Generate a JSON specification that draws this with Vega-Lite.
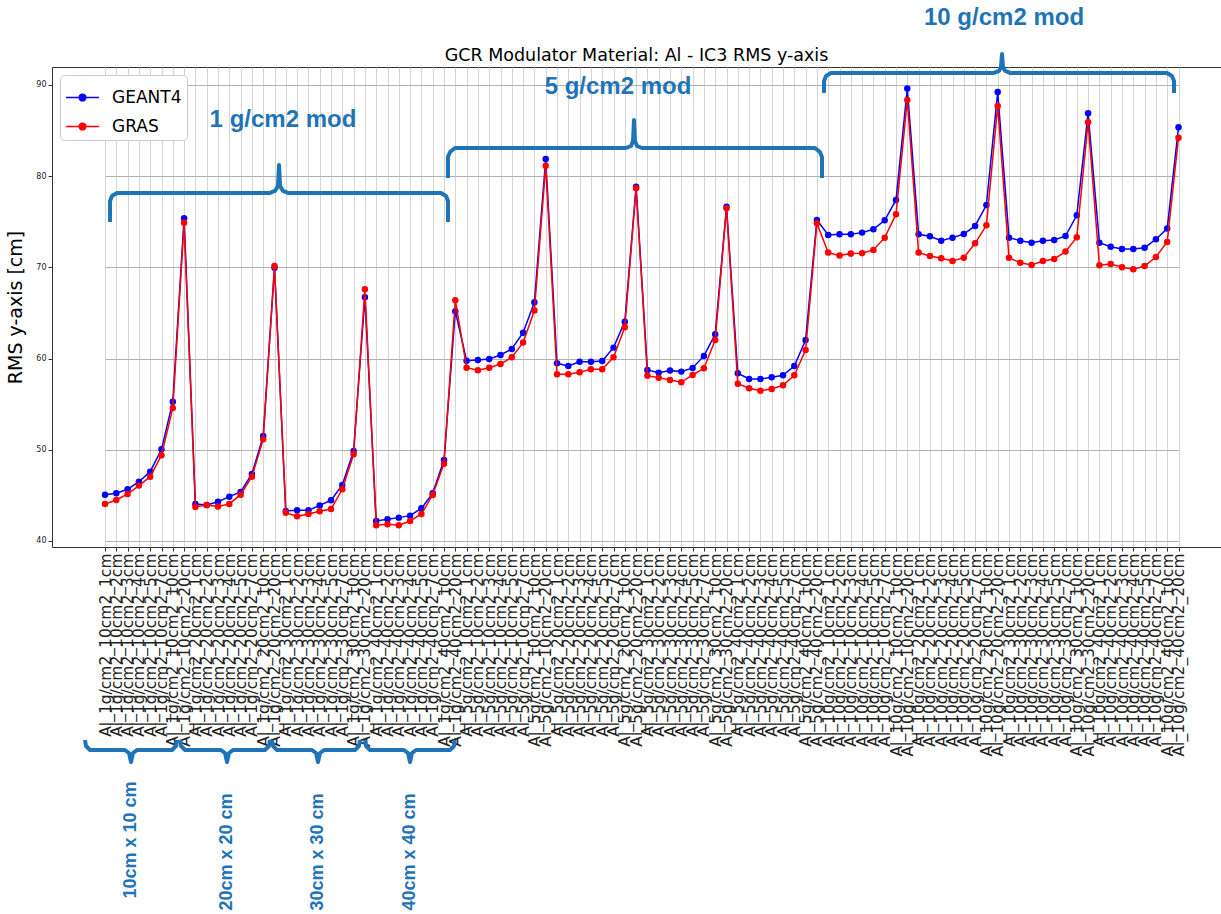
{
  "$schema": "https://vega.github.io/schema/vega-lite/v6.json",
  "autosize": "none",
  "padding": {"left": 52, "top": 67, "right": 0, "bottom": 367},
  "width": 1169,
  "height": 480,
  "background": "white",
  "title": {"text": "GCR Modulator Material: Al - IC3 RMS y-axis", "font": "DejaVu Sans", "fontSize": 17.5, "fontWeight": "normal", "color": "#000000", "offset": 4, "dy": 63, "anchor": "middle"},
  "config": {
    "view": {"stroke": "#333333", "strokeWidth": 1},
    "axis": {"domain": false, "tickColor": "#333333", "tickSize": 4, "labelColor": "#222222", "labelFont": "DejaVu Sans", "titleFont": "DejaVu Sans", "titleFontWeight": "normal", "titleColor": "#000000"}
  },
  "datasets": {
    "rms": [
      {"case": "Al_1g/cm2_10cm2_1cm", "GEANT4": 45.08, "GRAS": 44.06},
      {"case": "Al_1g/cm2_10cm2_2cm", "GEANT4": 45.23, "GRAS": 44.5},
      {"case": "Al_1g/cm2_10cm2_3cm", "GEANT4": 45.67, "GRAS": 45.15},
      {"case": "Al_1g/cm2_10cm2_4cm", "GEANT4": 46.5, "GRAS": 46.07},
      {"case": "Al_1g/cm2_10cm2_5cm", "GEANT4": 47.6, "GRAS": 47.05},
      {"case": "Al_1g/cm2_10cm2_7cm", "GEANT4": 50.05, "GRAS": 49.4},
      {"case": "Al_1g/cm2_10cm2_10cm", "GEANT4": 55.27, "GRAS": 54.58},
      {"case": "Al_1g/cm2_10cm2_20cm", "GEANT4": 75.38, "GRAS": 74.9},
      {"case": "Al_1g/cm2_20cm2_1cm", "GEANT4": 44.06, "GRAS": 43.73},
      {"case": "Al_1g/cm2_20cm2_2cm", "GEANT4": 43.95, "GRAS": 43.95},
      {"case": "Al_1g/cm2_20cm2_3cm", "GEANT4": 44.31, "GRAS": 43.77},
      {"case": "Al_1g/cm2_20cm2_4cm", "GEANT4": 44.86, "GRAS": 44.06},
      {"case": "Al_1g/cm2_20cm2_5cm", "GEANT4": 45.37, "GRAS": 45.08},
      {"case": "Al_1g/cm2_20cm2_7cm", "GEANT4": 47.35, "GRAS": 47.05},
      {"case": "Al_1g/cm2_20cm2_10cm", "GEANT4": 51.5, "GRAS": 51.15},
      {"case": "Al_1g/cm2_20cm2_20cm", "GEANT4": 69.97, "GRAS": 70.15},
      {"case": "Al_1g/cm2_30cm2_1cm", "GEANT4": 43.29, "GRAS": 43.1},
      {"case": "Al_1g/cm2_30cm2_2cm", "GEANT4": 43.36, "GRAS": 42.7},
      {"case": "Al_1g/cm2_30cm2_3cm", "GEANT4": 43.36, "GRAS": 42.96},
      {"case": "Al_1g/cm2_30cm2_4cm", "GEANT4": 43.9, "GRAS": 43.25},
      {"case": "Al_1g/cm2_30cm2_5cm", "GEANT4": 44.46, "GRAS": 43.5},
      {"case": "Al_1g/cm2_30cm2_7cm", "GEANT4": 46.14, "GRAS": 45.67},
      {"case": "Al_1g/cm2_30cm2_10cm", "GEANT4": 49.87, "GRAS": 49.5},
      {"case": "Al_1g/cm2_30cm2_20cm", "GEANT4": 66.72, "GRAS": 67.6},
      {"case": "Al_1g/cm2_40cm2_1cm", "GEANT4": 42.19, "GRAS": 41.72},
      {"case": "Al_1g/cm2_40cm2_2cm", "GEANT4": 42.38, "GRAS": 41.83},
      {"case": "Al_1g/cm2_40cm2_3cm", "GEANT4": 42.56, "GRAS": 41.72},
      {"case": "Al_1g/cm2_40cm2_4cm", "GEANT4": 42.78, "GRAS": 42.19},
      {"case": "Al_1g/cm2_40cm2_5cm", "GEANT4": 43.58, "GRAS": 42.96},
      {"case": "Al_1g/cm2_40cm2_7cm", "GEANT4": 45.23, "GRAS": 45.04},
      {"case": "Al_1g/cm2_40cm2_10cm", "GEANT4": 48.88, "GRAS": 48.48},
      {"case": "Al_1g/cm2_40cm2_20cm", "GEANT4": 65.2, "GRAS": 66.4},
      {"case": "Al_5g/cm2_10cm2_1cm", "GEANT4": 59.77, "GRAS": 59.0},
      {"case": "Al_5g/cm2_10cm2_2cm", "GEANT4": 59.85, "GRAS": 58.71},
      {"case": "Al_5g/cm2_10cm2_3cm", "GEANT4": 59.96, "GRAS": 59.0},
      {"case": "Al_5g/cm2_10cm2_4cm", "GEANT4": 60.39, "GRAS": 59.41},
      {"case": "Al_5g/cm2_10cm2_5cm", "GEANT4": 61.05, "GRAS": 60.14},
      {"case": "Al_5g/cm2_10cm2_7cm", "GEANT4": 62.84, "GRAS": 61.75},
      {"case": "Al_5g/cm2_10cm2_10cm", "GEANT4": 66.17, "GRAS": 65.26},
      {"case": "Al_5g/cm2_10cm2_20cm", "GEANT4": 81.89, "GRAS": 81.15},
      {"case": "Al_5g/cm2_20cm2_1cm", "GEANT4": 59.48, "GRAS": 58.28},
      {"case": "Al_5g/cm2_20cm2_2cm", "GEANT4": 59.19, "GRAS": 58.28},
      {"case": "Al_5g/cm2_20cm2_3cm", "GEANT4": 59.66, "GRAS": 58.5},
      {"case": "Al_5g/cm2_20cm2_4cm", "GEANT4": 59.66, "GRAS": 58.83},
      {"case": "Al_5g/cm2_20cm2_5cm", "GEANT4": 59.74, "GRAS": 58.83},
      {"case": "Al_5g/cm2_20cm2_7cm", "GEANT4": 61.2, "GRAS": 60.14},
      {"case": "Al_5g/cm2_20cm2_10cm", "GEANT4": 64.05, "GRAS": 63.43},
      {"case": "Al_5g/cm2_20cm2_20cm", "GEANT4": 78.85, "GRAS": 78.67},
      {"case": "Al_5g/cm2_30cm2_1cm", "GEANT4": 58.75, "GRAS": 58.13},
      {"case": "Al_5g/cm2_30cm2_2cm", "GEANT4": 58.46, "GRAS": 57.91},
      {"case": "Al_5g/cm2_30cm2_3cm", "GEANT4": 58.68, "GRAS": 57.65},
      {"case": "Al_5g/cm2_30cm2_4cm", "GEANT4": 58.57, "GRAS": 57.4},
      {"case": "Al_5g/cm2_30cm2_5cm", "GEANT4": 58.97, "GRAS": 58.2},
      {"case": "Al_5g/cm2_30cm2_7cm", "GEANT4": 60.29, "GRAS": 58.93},
      {"case": "Al_5g/cm2_30cm2_10cm", "GEANT4": 62.66, "GRAS": 62.04},
      {"case": "Al_5g/cm2_30cm2_20cm", "GEANT4": 76.66, "GRAS": 76.48},
      {"case": "Al_5g/cm2_40cm2_1cm", "GEANT4": 58.39, "GRAS": 57.25},
      {"case": "Al_5g/cm2_40cm2_2cm", "GEANT4": 57.76, "GRAS": 56.74},
      {"case": "Al_5g/cm2_40cm2_3cm", "GEANT4": 57.76, "GRAS": 56.48},
      {"case": "Al_5g/cm2_40cm2_4cm", "GEANT4": 57.95, "GRAS": 56.67},
      {"case": "Al_5g/cm2_40cm2_5cm", "GEANT4": 58.17, "GRAS": 57.07},
      {"case": "Al_5g/cm2_40cm2_7cm", "GEANT4": 59.19, "GRAS": 58.17},
      {"case": "Al_5g/cm2_40cm2_10cm", "GEANT4": 62.04, "GRAS": 60.94},
      {"case": "Al_5g/cm2_40cm2_20cm", "GEANT4": 75.2, "GRAS": 74.84},
      {"case": "Al_10g/cm2_10cm2_1cm", "GEANT4": 73.55, "GRAS": 71.62},
      {"case": "Al_10g/cm2_10cm2_2cm", "GEANT4": 73.63, "GRAS": 71.29},
      {"case": "Al_10g/cm2_10cm2_3cm", "GEANT4": 73.63, "GRAS": 71.51},
      {"case": "Al_10g/cm2_10cm2_4cm", "GEANT4": 73.81, "GRAS": 71.55},
      {"case": "Al_10g/cm2_10cm2_5cm", "GEANT4": 74.18, "GRAS": 71.91},
      {"case": "Al_10g/cm2_10cm2_7cm", "GEANT4": 75.16, "GRAS": 73.26},
      {"case": "Al_10g/cm2_10cm2_10cm", "GEANT4": 77.39, "GRAS": 75.82},
      {"case": "Al_10g/cm2_10cm2_20cm", "GEANT4": 89.61, "GRAS": 88.36},
      {"case": "Al_10g/cm2_20cm2_1cm", "GEANT4": 73.63, "GRAS": 71.62},
      {"case": "Al_10g/cm2_20cm2_2cm", "GEANT4": 73.41, "GRAS": 71.25},
      {"case": "Al_10g/cm2_20cm2_3cm", "GEANT4": 72.93, "GRAS": 71.0},
      {"case": "Al_10g/cm2_20cm2_4cm", "GEANT4": 73.26, "GRAS": 70.7},
      {"case": "Al_10g/cm2_20cm2_5cm", "GEANT4": 73.66, "GRAS": 71.06},
      {"case": "Al_10g/cm2_20cm2_7cm", "GEANT4": 74.54, "GRAS": 72.64},
      {"case": "Al_10g/cm2_20cm2_10cm", "GEANT4": 76.84, "GRAS": 74.61},
      {"case": "Al_10g/cm2_20cm2_20cm", "GEANT4": 89.23, "GRAS": 87.7},
      {"case": "Al_10g/cm2_30cm2_1cm", "GEANT4": 73.26, "GRAS": 71.06},
      {"case": "Al_10g/cm2_30cm2_2cm", "GEANT4": 72.93, "GRAS": 70.51},
      {"case": "Al_10g/cm2_30cm2_3cm", "GEANT4": 72.71, "GRAS": 70.26},
      {"case": "Al_10g/cm2_30cm2_4cm", "GEANT4": 72.93, "GRAS": 70.7},
      {"case": "Al_10g/cm2_30cm2_5cm", "GEANT4": 73.0, "GRAS": 70.92},
      {"case": "Al_10g/cm2_30cm2_7cm", "GEANT4": 73.44, "GRAS": 71.73},
      {"case": "Al_10g/cm2_30cm2_10cm", "GEANT4": 75.71, "GRAS": 73.3},
      {"case": "Al_10g/cm2_30cm2_20cm", "GEANT4": 86.9, "GRAS": 85.91},
      {"case": "Al_10g/cm2_40cm2_1cm", "GEANT4": 72.71, "GRAS": 70.23},
      {"case": "Al_10g/cm2_40cm2_2cm", "GEANT4": 72.27, "GRAS": 70.37},
      {"case": "Al_10g/cm2_40cm2_3cm", "GEANT4": 72.02, "GRAS": 70.01},
      {"case": "Al_10g/cm2_40cm2_4cm", "GEANT4": 72.02, "GRAS": 69.79},
      {"case": "Al_10g/cm2_40cm2_5cm", "GEANT4": 72.16, "GRAS": 70.15},
      {"case": "Al_10g/cm2_40cm2_7cm", "GEANT4": 73.08, "GRAS": 71.14},
      {"case": "Al_10g/cm2_40cm2_10cm", "GEANT4": 74.25, "GRAS": 72.79},
      {"case": "Al_10g/cm2_40cm2_20cm", "GEANT4": 85.36, "GRAS": 84.22}
    ],
    "braces": [
      {"brace": "m1", "i": 0, "x": 0.442, "y": 74.98},
      {"brace": "m1", "i": 1, "x": 0.442, "y": 77.28},
      {"brace": "m1", "i": 2, "x": 0.619, "y": 77.83},
      {"brace": "m1", "i": 3, "x": 1.062, "y": 78.16},
      {"brace": "m1", "i": 4, "x": 14.6, "y": 78.16},
      {"brace": "m1", "i": 5, "x": 15.04, "y": 78.38},
      {"brace": "m1", "i": 6, "x": 15.31, "y": 78.93},
      {"brace": "m1", "i": 7, "x": 15.4, "y": 81.23},
      {"brace": "m1", "i": 8, "x": 15.49, "y": 78.93},
      {"brace": "m1", "i": 9, "x": 15.75, "y": 78.38},
      {"brace": "m1", "i": 10, "x": 16.19, "y": 78.16},
      {"brace": "m1", "i": 11, "x": 29.73, "y": 78.16},
      {"brace": "m1", "i": 12, "x": 30.18, "y": 77.83},
      {"brace": "m1", "i": 13, "x": 30.35, "y": 77.28},
      {"brace": "m1", "i": 14, "x": 30.35, "y": 74.98},
      {"brace": "m5", "i": 0, "x": 30.35, "y": 79.8},
      {"brace": "m5", "i": 1, "x": 30.35, "y": 82.11},
      {"brace": "m5", "i": 2, "x": 30.53, "y": 82.65},
      {"brace": "m5", "i": 3, "x": 30.97, "y": 83.09},
      {"brace": "m5", "i": 4, "x": 46.11, "y": 83.09},
      {"brace": "m5", "i": 5, "x": 46.55, "y": 83.31},
      {"brace": "m5", "i": 6, "x": 46.73, "y": 83.86},
      {"brace": "m5", "i": 7, "x": 46.81, "y": 86.16},
      {"brace": "m5", "i": 8, "x": 46.9, "y": 83.86},
      {"brace": "m5", "i": 9, "x": 47.08, "y": 83.31},
      {"brace": "m5", "i": 10, "x": 47.52, "y": 83.09},
      {"brace": "m5", "i": 11, "x": 62.83, "y": 83.09},
      {"brace": "m5", "i": 12, "x": 63.27, "y": 82.65},
      {"brace": "m5", "i": 13, "x": 63.45, "y": 82.11},
      {"brace": "m5", "i": 14, "x": 63.45, "y": 79.8},
      {"brace": "m10", "i": 0, "x": 63.63, "y": 89.12},
      {"brace": "m10", "i": 1, "x": 63.63, "y": 90.44},
      {"brace": "m10", "i": 2, "x": 63.81, "y": 90.99},
      {"brace": "m10", "i": 3, "x": 64.25, "y": 91.32},
      {"brace": "m10", "i": 4, "x": 78.67, "y": 91.32},
      {"brace": "m10", "i": 5, "x": 79.12, "y": 91.54},
      {"brace": "m10", "i": 6, "x": 79.29, "y": 91.97},
      {"brace": "m10", "i": 7, "x": 79.38, "y": 93.4},
      {"brace": "m10", "i": 8, "x": 79.47, "y": 91.97},
      {"brace": "m10", "i": 9, "x": 79.65, "y": 91.54},
      {"brace": "m10", "i": 10, "x": 80.09, "y": 91.32},
      {"brace": "m10", "i": 11, "x": 93.98, "y": 91.32},
      {"brace": "m10", "i": 12, "x": 94.42, "y": 90.99},
      {"brace": "m10", "i": 13, "x": 94.6, "y": 90.44},
      {"brace": "m10", "i": 14, "x": 94.6, "y": 89.12},
      {"brace": "s10", "i": 0, "x": -1.77, "y": 18.18},
      {"brace": "s10", "i": 1, "x": -1.681, "y": 17.52},
      {"brace": "s10", "i": 2, "x": -1.327, "y": 17.08},
      {"brace": "s10", "i": 3, "x": 1.77, "y": 17.08},
      {"brace": "s10", "i": 4, "x": 2.124, "y": 16.75},
      {"brace": "s10", "i": 5, "x": 2.301, "y": 15.77},
      {"brace": "s10", "i": 6, "x": 2.478, "y": 16.75},
      {"brace": "s10", "i": 7, "x": 2.832, "y": 17.08},
      {"brace": "s10", "i": 8, "x": 5.929, "y": 17.08},
      {"brace": "s10", "i": 9, "x": 6.283, "y": 17.52},
      {"brace": "s10", "i": 10, "x": 6.372, "y": 18.18},
      {"brace": "s20", "i": 0, "x": 6.637, "y": 18.18},
      {"brace": "s20", "i": 1, "x": 6.726, "y": 17.52},
      {"brace": "s20", "i": 2, "x": 7.08, "y": 17.08},
      {"brace": "s20", "i": 3, "x": 10.265, "y": 17.08},
      {"brace": "s20", "i": 4, "x": 10.619, "y": 16.75},
      {"brace": "s20", "i": 5, "x": 10.796, "y": 15.77},
      {"brace": "s20", "i": 6, "x": 10.973, "y": 16.75},
      {"brace": "s20", "i": 7, "x": 11.327, "y": 17.08},
      {"brace": "s20", "i": 8, "x": 14.159, "y": 17.08},
      {"brace": "s20", "i": 9, "x": 14.513, "y": 17.52},
      {"brace": "s20", "i": 10, "x": 14.602, "y": 18.18},
      {"brace": "s30", "i": 0, "x": 14.779, "y": 18.18},
      {"brace": "s30", "i": 1, "x": 14.867, "y": 17.52},
      {"brace": "s30", "i": 2, "x": 15.221, "y": 17.08},
      {"brace": "s30", "i": 3, "x": 18.319, "y": 17.08},
      {"brace": "s30", "i": 4, "x": 18.673, "y": 16.75},
      {"brace": "s30", "i": 5, "x": 18.85, "y": 15.77},
      {"brace": "s30", "i": 6, "x": 19.027, "y": 16.75},
      {"brace": "s30", "i": 7, "x": 19.381, "y": 17.08},
      {"brace": "s30", "i": 8, "x": 22.124, "y": 17.08},
      {"brace": "s30", "i": 9, "x": 22.478, "y": 17.52},
      {"brace": "s30", "i": 10, "x": 22.566, "y": 18.18},
      {"brace": "s40", "i": 0, "x": 23.009, "y": 18.18},
      {"brace": "s40", "i": 1, "x": 23.097, "y": 17.52},
      {"brace": "s40", "i": 2, "x": 23.451, "y": 17.08},
      {"brace": "s40", "i": 3, "x": 26.46, "y": 17.08},
      {"brace": "s40", "i": 4, "x": 26.814, "y": 16.75},
      {"brace": "s40", "i": 5, "x": 26.991, "y": 15.77},
      {"brace": "s40", "i": 6, "x": 27.168, "y": 16.75},
      {"brace": "s40", "i": 7, "x": 27.522, "y": 17.08},
      {"brace": "s40", "i": 8, "x": 30.531, "y": 17.08},
      {"brace": "s40", "i": 9, "x": 30.885, "y": 17.52},
      {"brace": "s40", "i": 10, "x": 30.973, "y": 18.18}
    ],
    "modnotes": [
      {"note": "1 g/cm2 mod", "x": 15.75, "y": 86.16},
      {"note": "5 g/cm2 mod", "x": 45.4, "y": 89.78},
      {"note": "10 g/cm2 mod", "x": 79.56, "y": 97.35}
    ],
    "sizenotes": [
      {"note": "10cm x 10 cm", "x": 2.3, "y": 7.21},
      {"note": "20cm x 20 cm", "x": 10.8, "y": 5.9},
      {"note": "30cm x 30 cm", "x": 18.85, "y": 5.9},
      {"note": "40cm x 40 cm", "x": 26.99, "y": 5.9}
    ]
  },
  "layer": [
    {
      "data": {"name": "rms"},
      "transform": [{"fold": ["GEANT4", "GRAS"], "as": ["model", "rms"]}],
      "encoding": {
        "x": {"field": "case", "type": "ordinal", "sort": null, "scale": {"type": "point", "padding": 0, "range": [53, 1126.5]},
              "axis": {"title": null, "labelAngle": -90, "labelFontSize": 15.5, "labelPadding": 2, "labelLimit": 0, "grid": true, "gridColor": "#d4d4d4", "gridWidth": 1, "labelOverlap": false, "labelBound": false}},
        "y": {"field": "rms", "type": "quantitative", "title": "RMS y-axis [cm]",
              "scale": {"domain": [39.34, 91.97], "nice": false, "zero": false},
              "axis": {"values": [40, 50, 60, 70, 80, 90], "labelFontSize": 8, "titleFontSize": 19, "titlePadding": 10, "grid": true, "gridColor": "#b0b0b0"}},
        "color": {"field": "model", "type": "nominal", "scale": {"domain": ["GEANT4", "GRAS"], "range": ["#0000ff", "#ff0000"]},
                  "legend": {"title": null, "orient": "top-left", "offset": 8, "padding": 5, "fillColor": "white", "strokeColor": "#cccccc", "cornerRadius": 4,
                             "labelFontSize": 17, "labelFont": "DejaVu Sans", "labelColor": "#000000", "labelOffset": 12,
                             "symbolType": "M-1,0L1,0M0.2,0A0.2,0.2,0,1,1,-0.2,0A0.2,0.2,0,1,1,0.2,0Z", "symbolSize": 1100, "symbolStrokeWidth": 1.5, "rowPadding": 3,
                             "encode": {"symbols": {"update": {"fill": {"scale": "color", "field": "value"}, "fillOpacity": {"value": 1}, "opacity": {"value": 1}}}}}}
      },
      "layer": [
        {"transform": [{"filter": "datum.model === 'GEANT4'"}], "mark": {"type": "line", "strokeWidth": 1.5, "point": {"filled": true, "size": 42, "opacity": 1}}},
        {"transform": [{"filter": "datum.model === 'GRAS'"}], "mark": {"type": "line", "strokeWidth": 1.5, "point": {"filled": true, "size": 42, "opacity": 1}}}
      ]
    },
    {
      "layer": [
        {
          "data": {"name": "braces"},
          "mark": {"type": "line", "strokeWidth": 4, "color": "#1f74b8", "clip": false, "strokeJoin": "round", "strokeCap": "butt"},
          "encoding": {
            "x": {"field": "x", "type": "quantitative", "scale": {"domain": [-4.69, 98.76], "nice": false, "zero": false}, "axis": null},
            "y": {"field": "y", "type": "quantitative", "title": "RMS y-axis [cm]", "scale": {"domain": [39.34, 91.97], "nice": false, "zero": false}},
            "detail": {"field": "brace", "type": "nominal"},
            "order": {"field": "i", "type": "quantitative"}
          }
        },
        {
          "data": {"name": "modnotes"},
          "mark": {"type": "text", "font": "Liberation Sans", "fontWeight": "bold", "fontSize": 24, "color": "#1f74b8", "align": "center", "baseline": "middle", "clip": false},
          "encoding": {
            "x": {"field": "x", "type": "quantitative", "scale": {"domain": [-4.69, 98.76], "nice": false, "zero": false}, "axis": null},
            "y": {"field": "y", "type": "quantitative", "title": "RMS y-axis [cm]", "scale": {"domain": [39.34, 91.97], "nice": false, "zero": false}},
            "text": {"field": "note"}
          }
        },
        {
          "data": {"name": "sizenotes"},
          "mark": {"type": "text", "font": "Liberation Sans", "fontWeight": "bold", "fontSize": 18, "color": "#1f74b8", "align": "center", "baseline": "middle", "angle": 270, "clip": false},
          "encoding": {
            "x": {"field": "x", "type": "quantitative", "scale": {"domain": [-4.69, 98.76], "nice": false, "zero": false}, "axis": null},
            "y": {"field": "y", "type": "quantitative", "title": "RMS y-axis [cm]", "scale": {"domain": [39.34, 91.97], "nice": false, "zero": false}},
            "text": {"field": "note"}
          }
        }
      ]
    }
  ],
  "resolve": {"scale": {"x": "independent"}}
}
